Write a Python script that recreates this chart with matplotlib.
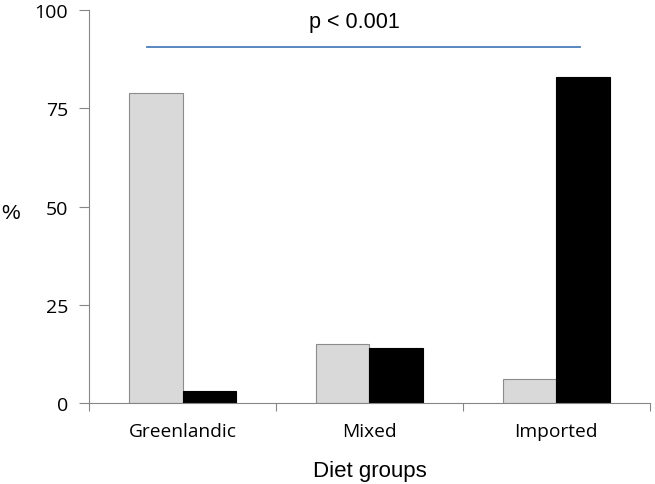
import matplotlib.pyplot as plt
import numpy as np

# diet groups and percentages
groups = ["Greenlandic", "Mixed", "Imported"]
gray_vals = [79, 15, 6]
black_vals = [3, 14, 83]
y_ticks = [0, 25, 50, 75, 100]

fig = plt.figure(figsize=(6.55, 4.85), dpi=100)
ax = fig.add_axes([0.136, 0.167, 0.856, 0.810])

x = np.arange(len(groups))
w = 0.285
ax.bar(x - w / 2, gray_vals, width=w, color="#d9d9d9", edgecolor="#8c8c8c", linewidth=0.8)
ax.bar(x + w / 2, black_vals, width=w, color="black", edgecolor="black", linewidth=0.8)

# significance line
ax.plot([-0.19, 2.125], [90.6, 90.6], color="#4a7ebb", linewidth=1.3)
ax.text(0.917, 97.0, "p < 0.001", ha="center", va="center", fontsize=15.5,
        family="Liberation Sans")

ax.set_xlim(-0.5, 2.5)
ax.set_ylim(0, 100)
ax.set_yticks(y_ticks)
ax.set_yticklabels([str(v) for v in y_ticks], fontsize=14, family="Open Sans")

ax.set_xticks([-0.5, 0.5, 1.5, 2.5])
ax.set_xticklabels([])
ax.set_xticks(x, minor=True)
ax.set_xticklabels(groups, minor=True, fontsize=13.8, family="Open Sans")
ax.tick_params(axis="x", which="minor", length=0, pad=14)
ax.tick_params(axis="x", which="major", length=6, color="#868686")
ax.tick_params(axis="y", length=7, color="#868686", pad=8)

for s in ["top", "right"]:
    ax.spines[s].set_visible(False)
for s in ["left", "bottom"]:
    ax.spines[s].set_color("#868686")

ax.set_xlabel("Diet groups", fontsize=16, family="Liberation Sans", labelpad=14)
fig.text(0.016, 0.56, "%", fontsize=15, family="Liberation Sans", ha="center", va="center")

fig.savefig("out.png")
